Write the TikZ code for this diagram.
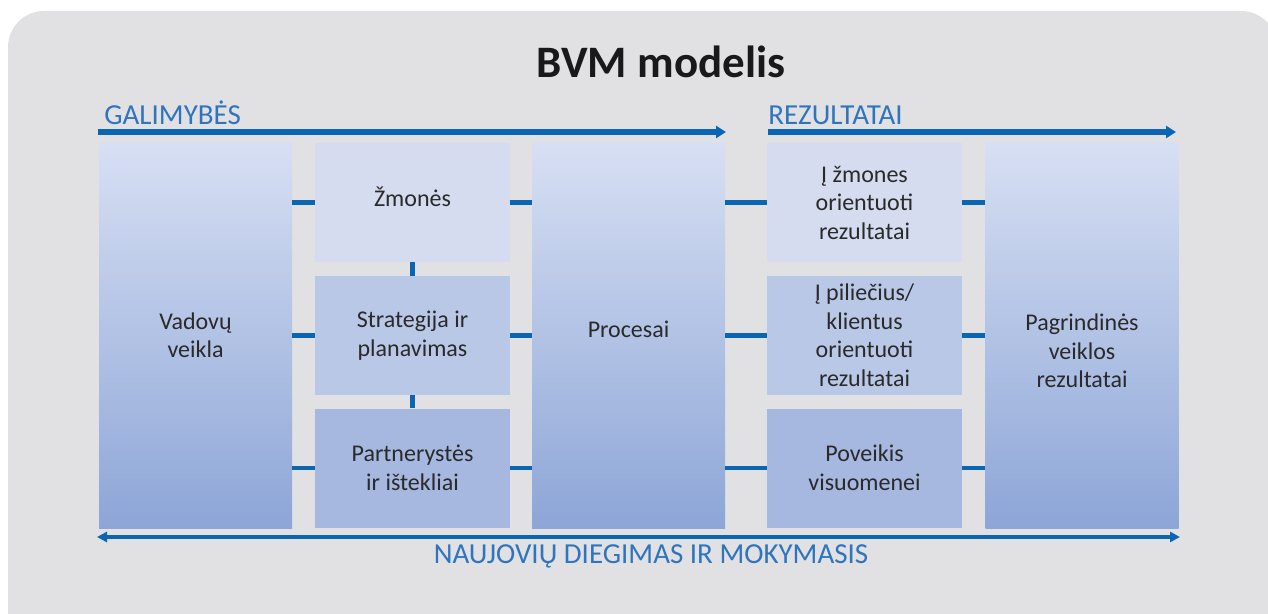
\documentclass[tikz,border=0pt]{standalone}
\usepackage{fontspec}
\setmainfont{Carlito}
\usetikzlibrary{arrows.meta}

\definecolor{bvmgray}{HTML}{E1E1E4}
\definecolor{bvmblue}{HTML}{0A66B2}
\definecolor{bvmlabel}{HTML}{2F74BF}
\definecolor{bvmtext}{HTML}{2A2A2A}
\definecolor{bvmtop}{HTML}{D7DFF3}
\definecolor{bvmbot}{HTML}{8DA6D7}
\definecolor{rowa}{HTML}{D5DCEF}
\definecolor{rowb}{HTML}{BAC8E7}
\definecolor{rowc}{HTML}{A6B8E0}

\tikzset{
  boxtext/.style={align=center, inner sep=0pt, text=bvmtext,
    font=\fontsize{12}{14.25}\selectfont},
  tallbox/.style={boxtext, minimum width=96.5pt, minimum height=192.5pt,
    top color=bvmtop, bottom color=bvmbot},
  smallbox/.style={boxtext, minimum width=97.5pt, minimum height=59.5pt},
  link/.style={draw=bvmblue, line width=2.3pt},
  bigarrow/.style={draw=bvmblue, line width=2.6pt,
    -{Triangle[length=5pt,width=6pt]}},
  bvmlbl/.style={text=bvmlabel, inner sep=0pt,
    font=\fontsize{14.5}{17}\selectfont}
}

\begin{document}
\begin{tikzpicture}[x=0.5pt,y=-0.5pt]
  \useasboundingbox (0,0) rectangle (1268,614);
  \clip (0,0) rectangle (1268,614);
  % background panel
  \fill[bvmgray, rounded corners=18pt] (8,11) rectangle (1277,660);

  \node[font=\fontsize{22.5}{26}\selectfont\bfseries, text=black!90] (title) at (661,62) {BVM modelis};

  % top arrows
  \node[bvmlbl, anchor=base west] (gal) at (104,125) {GALIMYBĖS};
  \node[bvmlbl, anchor=base west] (rez) at (768,125) {REZULTATAI};
  \coordinate (galA) at (98,132);
  \coordinate (galB) at (726,132);
  \coordinate (rezA) at (768,132);
  \coordinate (rezB) at (1176,132);
  \draw[bigarrow] (galA) -- (galB);
  \draw[bigarrow] (rezA) -- (rezB);

  % columns
  \node[tallbox] (vad) at (195.5,335.5) {Vadovų\\veikla};
  \node[smallbox, fill=rowa] (zm) at (412.5,202.5) {};
  \node[boxtext] (zmtxt) at (412.5,197) {Žmonės};
  \node[smallbox, fill=rowb] (str) at (412.5,335.5) {Strategija ir\\planavimas};
  \node[smallbox, fill=rowc] (par) at (412.5,468) {Partnerystės\\ir ištekliai};
  \node[tallbox] (proc) at (628.5,335.5) {};
  \node[boxtext] (proctxt) at (628.5,329) {Procesai};
  \node[smallbox, fill=rowa] (zmrez) at (864.5,202.5) {Į žmones\\orientuoti\\rezultatai};
  \node[smallbox, fill=rowb] (klrez) at (864.5,335.5) {Į piliečius/\\klientus\\orientuoti\\rezultatai};
  \node[smallbox, fill=rowc] (pov) at (864.5,468) {Poveikis\\visuomenei};
  \node[tallbox] (pagr) at (1082,335.5) {};
  \node[boxtext] (pagrtxt) at (1082,351) {Pagrindinės\\veiklos\\rezultatai};

  % links
  \foreach \b in {zm,str,par}{
    \draw[link] (\b.west) -- (\b.west -| vad.east);
    \draw[link] (\b.east) -- (\b.east -| proc.west);
  }
  \foreach \b in {zmrez,klrez,pov}{
    \draw[link] (\b.west) -- (\b.west -| proc.east);
    \draw[link] (\b.east) -- (\b.east -| pagr.west);
  }
  \draw[link] (zm.south) -- (str.north);
  \draw[link] (str.south) -- (par.north);

  % bottom arrow
  \coordinate (nauA) at (97,537);
  \coordinate (nauB) at (1180,537);
  \draw[draw=bvmblue, line width=1.6pt,
    {Triangle[length=5pt,width=5pt]}-{Triangle[length=5pt,width=5pt]}] (nauA) -- (nauB);
  \node[bvmlbl] (nau) at (651,556) {NAUJOVIŲ DIEGIMAS IR MOKYMASIS};
\end{tikzpicture}
\end{document}
